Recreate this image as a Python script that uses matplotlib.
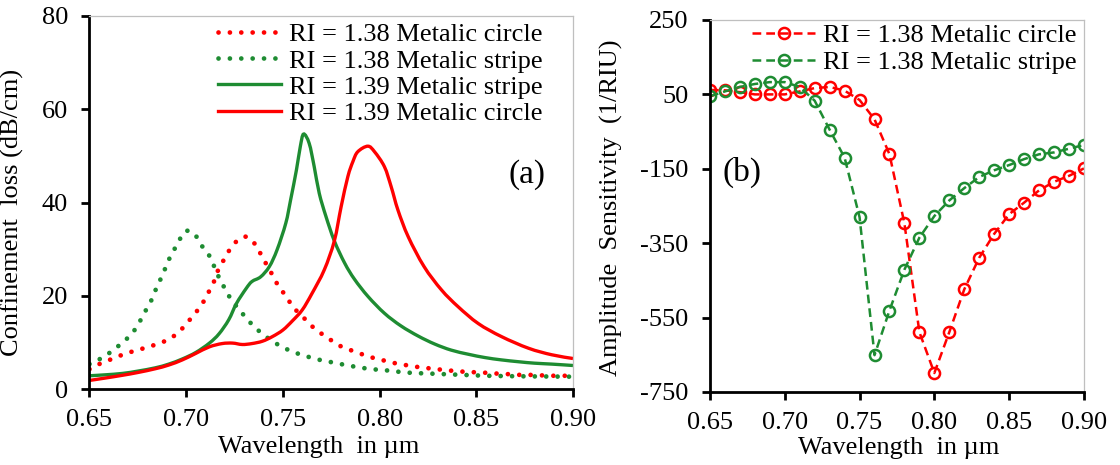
import matplotlib
matplotlib.use("Agg")
import matplotlib.pyplot as plt
from matplotlib.path import Path
from matplotlib.patches import PathPatch
from matplotlib.lines import Line2D

plt.rcParams['font.family'] = ['Liberation Serif', 'DejaVu Serif']
plt.rcParams['axes.unicode_minus'] = False

RED = '#FF0000'
GREEN = '#1E8C32'

# (a) confinement loss, dB/cm
wl_c138 = [0.650, 0.655, 0.661, 0.667, 0.673, 0.679, 0.685, 0.691, 0.696, 0.700,
           0.704, 0.708, 0.711, 0.714, 0.716, 0.719, 0.722, 0.726, 0.731, 0.736,
           0.739, 0.742, 0.745, 0.748, 0.752, 0.755, 0.760, 0.764, 0.769, 0.774,
           0.779, 0.785, 0.791, 0.797, 0.803, 0.809, 0.815, 0.821, 0.828, 0.834,
           0.840, 0.846, 0.853, 0.859, 0.865, 0.871, 0.877, 0.883, 0.890, 0.896, 0.900]
loss_c138 = [4.3, 5.4, 6.4, 7.4, 8.2, 8.9, 9.7, 10.7, 12.2, 14.0,
             16.0, 18.1, 20.4, 22.7, 25.1, 27.4, 29.6, 31.7, 32.7, 30.9,
             28.6, 26.4, 24.2, 21.9, 19.8, 17.7, 15.7, 13.9, 12.2, 10.8,
             9.4, 8.4, 7.5, 6.7, 6.1, 5.5, 5.1, 4.7, 4.4, 4.1,
             3.9, 3.7, 3.6, 3.4, 3.3, 3.1, 3.1, 3.0, 2.9, 2.9, 2.85]

wl_s138 = [0.650, 0.655, 0.660, 0.665, 0.670, 0.674, 0.677, 0.680, 0.683, 0.685,
           0.688, 0.690, 0.693, 0.696, 0.699, 0.702, 0.705, 0.708, 0.712, 0.7145,
           0.717, 0.720, 0.723, 0.727, 0.731, 0.735, 0.740, 0.745, 0.7505, 0.756,
           0.762, 0.768, 0.774, 0.780, 0.7865, 0.7925, 0.799, 0.805, 0.811, 0.8175,
           0.824, 0.830, 0.836, 0.842, 0.849, 0.855, 0.870, 0.885, 0.900]
loss_s138 = [5.4, 6.4, 7.7, 9.3, 11.1, 13.1, 15.3, 17.6, 19.9, 22.2,
             24.6, 26.9, 29.3, 31.6, 33.7, 33.9, 32.9, 30.8, 28.6, 26.3,
             23.9, 21.6, 19.4, 17.3, 15.3, 13.5, 11.7, 10.2, 8.9, 7.9,
             7.1, 6.4, 5.9, 5.4, 4.9, 4.5, 4.2, 4.0, 3.7, 3.5,
             3.4, 3.3, 3.2, 3.1, 3.0, 2.9, 2.8, 2.75, 2.7]

wl_s139 = [0.650, 0.658, 0.667, 0.675, 0.684, 0.691, 0.698, 0.705, 0.712, 0.717,
           0.722, 0.726, 0.731, 0.734, 0.7385, 0.743, 0.747, 0.7515, 0.754, 0.757,
           0.759, 0.7607, 0.7636, 0.7662, 0.7688, 0.7723, 0.7766, 0.782, 0.787, 0.794,
           0.8025, 0.811, 0.820, 0.8285, 0.837, 0.846, 0.8545, 0.863, 0.872, 0.880,
           0.889, 0.900]
loss_s139 = [2.9, 3.1, 3.4, 3.9, 4.6, 5.4, 6.5, 7.9, 9.9, 11.9,
             14.9, 18.4, 21.6, 23.1, 24.1, 26.3, 29.9, 35.6, 40.6, 47.0,
             52.0, 54.7, 52.7, 47.7, 42.0, 37.0, 31.8, 27.0, 23.6, 19.9,
             16.3, 13.6, 11.4, 9.7, 8.4, 7.5, 6.8, 6.3, 5.9, 5.6,
             5.4, 5.1]

wl_c139 = [0.650, 0.658, 0.667, 0.675, 0.684, 0.691, 0.698, 0.705, 0.712, 0.7186,
           0.724, 0.729, 0.734, 0.7394, 0.7446, 0.750, 0.755, 0.760, 0.765, 0.7714,
           0.7766, 0.7801, 0.7836, 0.7862, 0.7887, 0.7939, 0.7974, 0.8025, 0.806, 0.8095,
           0.8148, 0.823, 0.832, 0.8406, 0.851, 0.863, 0.877, 0.889, 0.900]
loss_c139 = [1.9, 2.4, 3.0, 3.6, 4.4, 5.2, 6.3, 7.7, 9.1, 9.8,
             9.9, 9.6, 9.8, 10.3, 11.3, 12.7, 14.7, 17.0, 20.5, 25.6,
             31.8, 39.1, 45.6, 48.8, 50.9, 52.1, 50.9, 47.7, 43.4, 38.4,
             32.7, 26.3, 21.3, 17.7, 14.1, 11.3, 8.8, 7.4, 6.6]

# (b) amplitude sensitivity, 1/RIU
wl_sens = [0.65, 0.66, 0.67, 0.68, 0.69, 0.70, 0.71, 0.72, 0.73, 0.74, 0.75, 0.76, 0.77,
           0.78, 0.79, 0.80, 0.81, 0.82, 0.83, 0.84, 0.85, 0.86, 0.87, 0.88, 0.89, 0.90]
sens_circle = [62, 61, 56, 50, 50, 50, 58, 67, 70, 60, 35, -17, -111,
               -297, -589, -699, -589, -474, -389, -325, -272, -241, -208, -185, -169, -149]
sens_stripe = [45, 58, 70, 78, 83, 83, 70, 33, -45, -120, -280, -651, -531,
               -421, -335, -277, -235, -202, -172, -154, -140, -124, -111, -106, -96, -86]

x_ticks = [0.65, 0.70, 0.75, 0.80, 0.85, 0.90]

FS = 19


def smooth_path(x, y):
    # Catmull-Rom curve through the points, written as cubic Bezier segments
    pts = list(zip(x, y))
    n = len(pts)
    verts = [pts[0]]
    codes = [Path.MOVETO]
    for i in range(n - 1):
        p0 = pts[i - 1] if i > 0 else pts[i]
        p1, p2 = pts[i], pts[i + 1]
        p3 = pts[i + 2] if i + 2 < n else pts[i + 1]
        c1 = (p1[0] + (p2[0] - p0[0]) / 6, p1[1] + (p2[1] - p0[1]) / 6)
        c2 = (p2[0] - (p3[0] - p1[0]) / 6, p2[1] - (p3[1] - p1[1]) / 6)
        verts += [c1, c2, p2]
        codes += [Path.CURVE4] * 3
    return Path(verts, codes)


def style_axes(ax):
    for side in ('left', 'bottom'):
        ax.spines[side].set_linewidth(2)
        ax.spines[side].set_color('black')
    for side in ('top', 'right'):
        ax.spines[side].set_linewidth(0.9)
        ax.spines[side].set_color('#BFBFBF')
    ax.tick_params(axis='both', which='both', direction='out', length=5.5, width=2,
                   labelsize=FS, top=False, right=False)
    ax.tick_params(axis='x', pad=9)
    ax.tick_params(axis='y', pad=10)
    ax.set_xlim(0.65, 0.90)
    ax.set_xticks(x_ticks)
    ax.set_xticklabels(['%.2f' % t for t in x_ticks])


fig = plt.figure(figsize=(11.2, 4.65), dpi=100)

# panel (a)
ax1 = fig.add_axes([0.0799, 0.1628, 0.4317, 0.8028])
dots = (0, (0.01, 2.4))
curves = [
    (wl_c138, loss_c138, RED, 3.4, dots, 'RI = 1.38 Metalic circle'),
    (wl_s138, loss_s138, GREEN, 3.4, dots, 'RI = 1.38 Metalic stripe'),
    (wl_s139, loss_s139, GREEN, 2.4, '-', 'RI = 1.39 Metalic stripe'),
    (wl_c139, loss_c139, RED, 2.4, '-', 'RI = 1.39 Metalic circle'),
]
handles = []
for x, y, col, lw, ls, lab in curves:
    patch = PathPatch(smooth_path(x, y), fill=False, edgecolor=col, lw=lw,
                      ls=ls, capstyle='round' if ls is dots else 'butt')
    ax1.add_patch(patch)
    handles.append(Line2D([], [], color=col, lw=lw, ls=ls,
                          dash_capstyle='round', label=lab))
style_axes(ax1)
ax1.set_ylim(0, 80)
ax1.set_yticks([0, 20, 40, 60, 80])
ax1.set_xlabel('Wavelength  in µm', fontsize=FS)
ax1.set_ylabel('Confinement  loss (dB/cm)', fontsize=FS)
ax1.xaxis.set_label_coords(0.475, -0.126)
ax1.yaxis.set_label_coords(-0.135, 0.473)
ax1.text(0.905, 0.575, '(a)', transform=ax1.transAxes, fontsize=24,
         ha='center', va='center')
ax1.legend(handles=handles, loc='upper right', bbox_to_anchor=(543 / 1120, 1 - 23 / 465),
           bbox_transform=fig.transFigure, frameon=False, fontsize=FS,
           handlelength=2.4, handletextpad=0.3, labelspacing=0.1, borderpad=0,
           borderaxespad=0)

# panel (b)
ax2 = fig.add_axes([0.6339, 0.1570, 0.3339, 0.8])
ax2.plot(wl_sens, sens_circle, color=RED, lw=1.8, ls=(0, (3.5, 2)), marker='o',
         ms=8, mew=1.8, mfc='none', mec=RED, label='RI = 1.38 Metalic circle')
ax2.plot(wl_sens, sens_stripe, color=GREEN, lw=1.8, ls=(0, (3.5, 2)), marker='o',
         ms=8, mew=1.8, mfc='none', mec=GREEN, label='RI = 1.38 Metalic stripe')
style_axes(ax2)
ax2.set_ylim(-750, 250)
ax2.set_yticks([-750, -550, -350, -150, 50, 250])
ax2.set_xlabel('Wavelength  in µm', fontsize=FS)
ax2.set_ylabel('Amplitude  Sensitivity  (1/RIU)', fontsize=FS)
ax2.xaxis.set_label_coords(0.505, -0.120)
ax2.yaxis.set_label_coords(-0.233, 0.495)
ax2.text(0.085, 0.59, '(b)', transform=ax2.transAxes, fontsize=24,
         ha='center', va='center')
ax2.legend(loc='upper right', bbox_to_anchor=(1077 / 1120, 1 - 24 / 465),
           bbox_transform=fig.transFigure, frameon=False, fontsize=FS,
           handlelength=2.4, handletextpad=0.3, labelspacing=0.13, borderpad=0,
           borderaxespad=0)

fig.savefig('out.png', dpi=100)
